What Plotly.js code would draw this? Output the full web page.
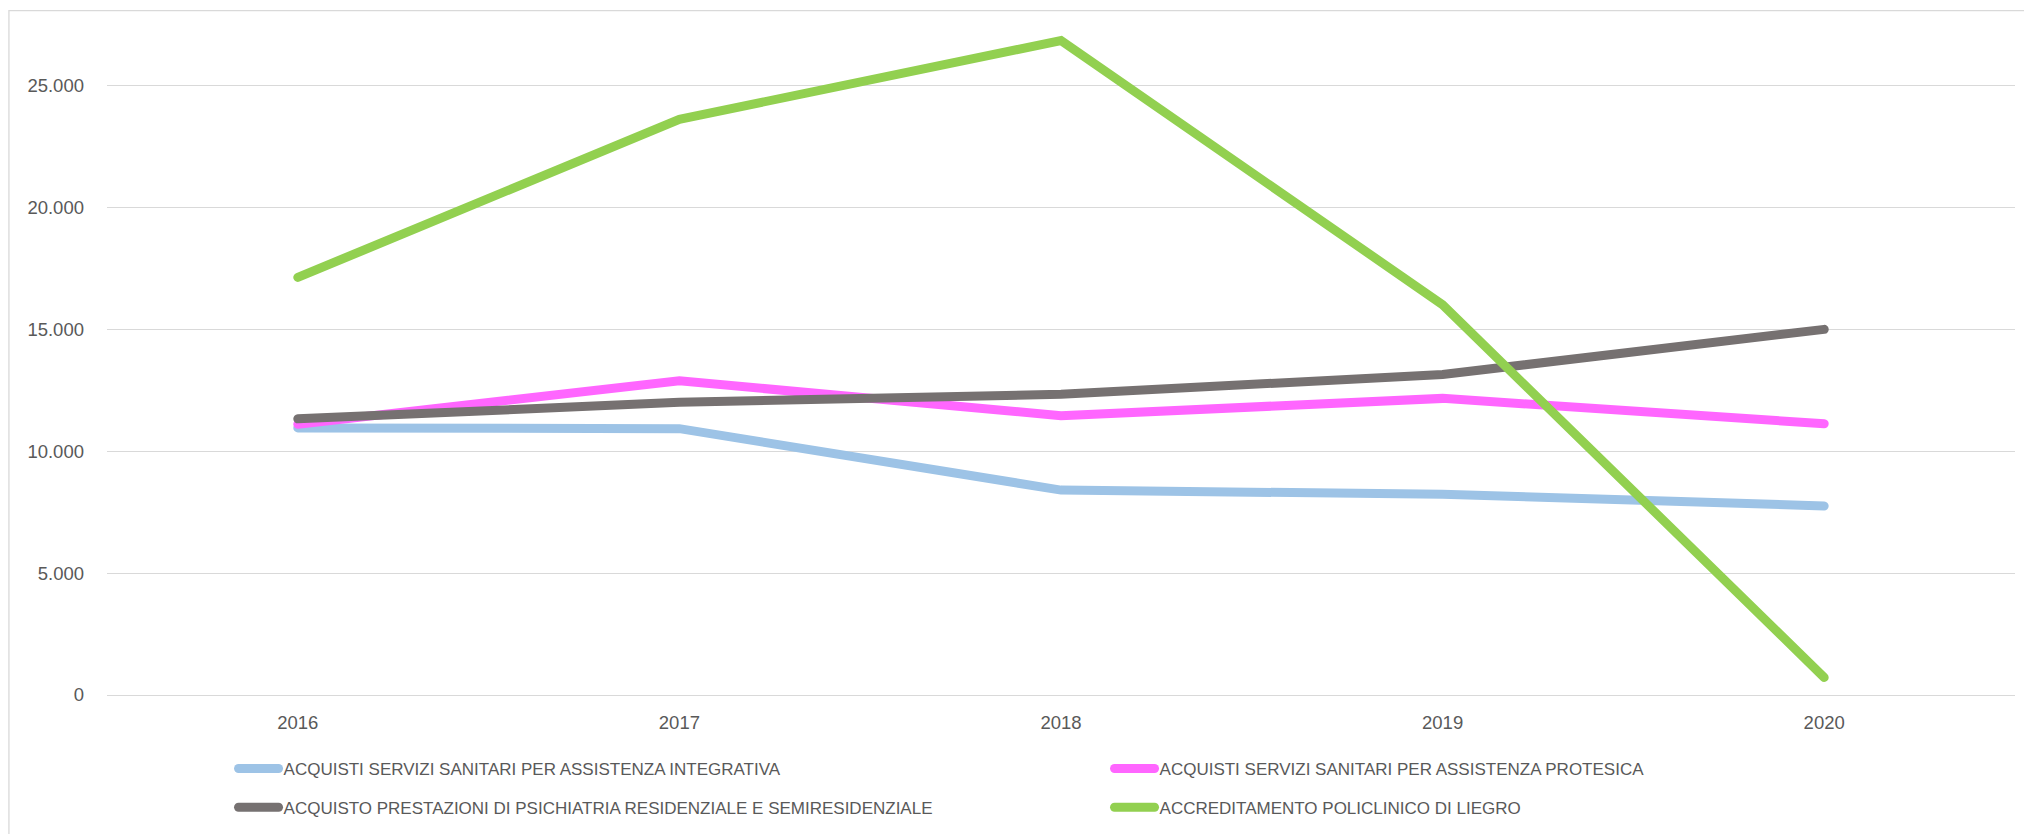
<!DOCTYPE html>
<html>
<head>
<meta charset="utf-8">
<script src="https://cdn.plot.ly/plotly-3.0.1.min.js"></script>
<style>
  html, body { margin: 0; padding: 0; background: #ffffff; }
  #chart { width: 2024px; height: 834px; }
  .js-line { stroke-linecap: round !important; }
  .legendlines path { stroke-linecap: round !important; d: path("M10,0h40"); }
</style>
</head>
<body>
<div id="chart"></div>
<script>
const years = ['2016', '2017', '2018', '2019', '2020'];
const seriesNames = [
  'ACQUISTI SERVIZI SANITARI PER ASSISTENZA INTEGRATIVA',
  'ACQUISTI SERVIZI SANITARI PER ASSISTENZA PROTESICA',
  'ACQUISTO PRESTAZIONI DI PSICHIATRIA RESIDENZIALE E SEMIRESIDENZIALE',
  'ACCREDITAMENTO POLICLINICO DI LIEGRO'
];
const integrativa = [10950, 10920, 8400, 8230, 7750];
const protesica = [11100, 12880, 11450, 12160, 11120];
const psichiatria = [11320, 12000, 12330, 13140, 14990];
const policlinico = [17120, 23600, 26830, 16000, 720];
const yTicks = [0, 5000, 10000, 15000, 20000, 25000];

const colors = ['#9DC3E6', '#FF66FF', '#767171', '#92D050'];
const values = [integrativa, protesica, psichiatria, policlinico];
const legendIds = ['legend', 'legend', 'legend2', 'legend2'];

const traces = values.map((v, i) => ({
  type: 'scatter',
  mode: 'lines',
  x: years,
  y: v,
  name: seriesNames[i],
  legend: legendIds[i],
  line: { color: colors[i], width: 9 },
  hoverinfo: 'skip'
}));

const legendFont = { family: 'Liberation Sans, Arial, sans-serif', size: 17, color: '#595959' };
const legendCommon = {
  orientation: 'h',
  xanchor: 'left',
  yanchor: 'middle',
  x: 0.0637,
  font: legendFont,
  entrywidth: 816,
  entrywidthmode: 'pixels',
  itemwidth: 45,
  bgcolor: 'rgba(0,0,0,0)',
  borderwidth: 0,
  itemclick: false,
  itemdoubleclick: false
};

const layout = {
  width: 2024,
  height: 834,
  margin: { l: 107, r: 9, t: 12, b: 138 },
  paper_bgcolor: '#ffffff',
  plot_bgcolor: '#ffffff',
  separators: ',.',
  showlegend: true,
  hovermode: false,
  xaxis: {
    type: 'category',
    range: [-0.5, 4.5],
    showgrid: false,
    showline: false,
    zeroline: false,
    ticks: '',
    ticklabelstandoff: 14,
    tickfont: { family: 'Liberation Sans, Arial, sans-serif', size: 18.5, color: '#595959' },
    fixedrange: true
  },
  yaxis: {
    range: [0, 28000],
    tickvals: yTicks,
    tickformat: ',d',
    showgrid: true,
    gridcolor: '#D9D9D9',
    gridwidth: 1.3,
    zeroline: true,
    zerolinecolor: '#D9D9D9',
    zerolinewidth: 1.3,
    showline: false,
    ticks: '',
    ticklabelstandoff: 22,
    tickfont: { family: 'Liberation Sans, Arial, sans-serif', size: 18.5, color: '#595959' },
    fixedrange: true
  },
  legend: Object.assign({}, legendCommon, { y: -0.1067 }),
  legend2: Object.assign({}, legendCommon, { y: -0.1633 }),
  shapes: [{
    type: 'rect',
    xref: 'paper', yref: 'paper',
    x0: -0.0514, x1: 1.2, y0: -0.4, y1: 1.0019,
    line: { color: '#D9D9D9', width: 1.3 },
    fillcolor: 'rgba(0,0,0,0)',
    layer: 'below'
  }]
};

Plotly.newPlot('chart', traces, layout, { displayModeBar: false, staticPlot: false, responsive: false });
</script>
</body>
</html>
